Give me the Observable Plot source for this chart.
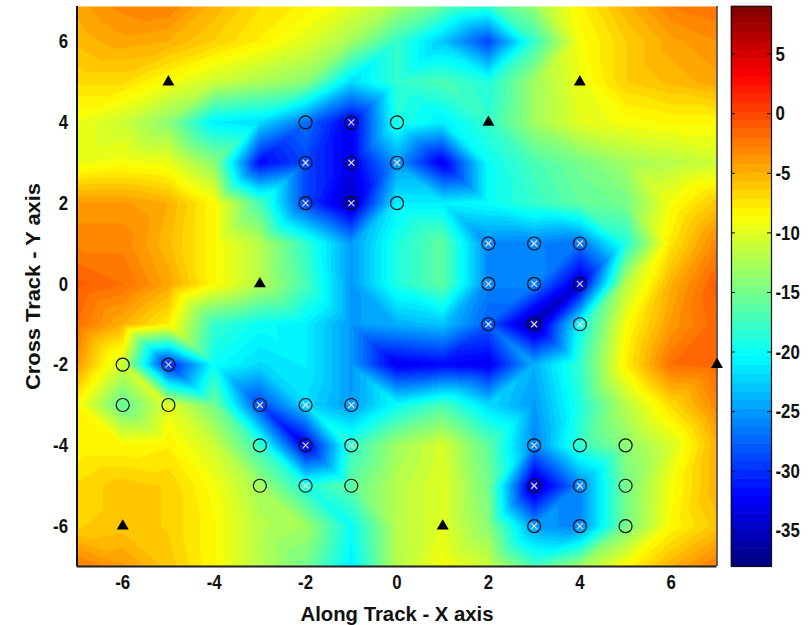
<!DOCTYPE html>
<html>
<head>
<meta charset="utf-8">
<script src="https://cdn.jsdelivr.net/npm/d3@7"></script>
<script src="https://cdn.jsdelivr.net/npm/@observablehq/plot@0.6"></script>
<style>
html,body{margin:0;padding:0;background:#fff;}
#wrap{position:relative;width:812px;height:625px;overflow:hidden;}
#wrap svg{position:absolute;left:0;top:0;background:transparent;}
</style>
</head>
<body>
<div id="wrap"></div>
<script>
const gridX = [-7,-6,-5,-4,-3,-2,-1,0,1,2,3,4,5,6,7];
const gridY = [7,6,5,4,3,2,1,0,-1,-2,-3,-4,-5,-6,-7];
const rowP7 = [-4.5,-3,-2.5,-5,-7,-8,-9.5,-12,-15,-17,-13,-8,-5,-2.5,-2];
const rowP6 = [-5.5,-4.5,-5,-6.5,-8,-10,-13,-18,-23,-29,-18,-9,-6.5,-4.5,-3.5];
const rowP5 = [-7,-7,-9,-11,-12.5,-14,-22,-18,-17,-19,-13,-9.5,-6.5,-5.5,-4.5];
const rowP4 = [-9.5,-11,-14,-21,-22,-27,-33,-19,-21,-18,-13,-10,-9,-8.5,-8.5];
const rowP3 = [-9.5,-9,-9.5,-14,-32,-29,-33,-25,-33,-20,-17,-15,-13,-12,-11];
const rowP2 = [-4,-4,-5,-8.5,-17,-29,-35,-21,-21,-20,-18,-16,-15,-9,-6];
const rowP1 = [-3,-3,-5.5,-8.5,-12,-18,-25,-19,-16,-26,-26,-27,-19,-7.5,-3];
const row00 = [-1,-2,-4.5,-8.5,-12,-17,-25,-19,-16,-26,-26,-34,-12,-5,-1];
const rowN1 = [-2,-5,-8,-18,-20,-21,-25,-24,-23,-28,-36,-20,-9,-4,-1.5];
const rowN2 = [-4,-11,-31,-20,-22,-21,-25,-33,-32,-33,-24,-18,-8,-2,-1.5];
const rowN3 = [-8.5,-16,-10,-15,-29,-22,-25,-20,-17,-22,-25,-19,-12,-7,-3];
const rowN4 = [-8.5,-8.5,-8,-11,-18,-33,-18,-13,-10.5,-16,-26,-18,-14,-10.5,-5];
const rowN5 = [-7,-6,-6.5,-9,-13,-19,-16,-12,-10,-15,-35,-26,-15,-9,-5];
const rowN6 = [-6.5,-6,-6.5,-8.5,-12,-13,-20,-12,-10,-14,-25,-26,-15,-8.5,-6];
const rowN7 = [-2.5,-4,-6,-8.5,-12,-15,-21,-12,-9,-11,-17,-13,-8.5,-5,-2.5];
const rows = [rowP7,rowP6,rowP5,rowP4,rowP3,rowP2,rowP1,row00,rowN1,rowN2,rowN3,rowN4,rowN5,rowN6,rowN7];

const triangleX = [-5,4,2,-3,7,-6,1];
const triangleY = [5,5,4,0,-2,-6,-6];
const openX = [-2,0,0,-6,-6,-5,-3,-3,-1,4,5,5,5];
const openY = [4,4,2,-2,-3,-3,-4,-5,-5,-4,-4,-5,-6];
const crossX = [-1,-2,-1,0,-2,-1,2,3,4,2,3,4,2,3,4,-5,-3,-2,-1,-2,-1,3,-2,3,4,3,4];
const crossY = [4,3,3,3,2,2,1,1,1,0,0,0,-1,-1,-1,-2,-3,-3,-3,-4,-4,-4,-5,-5,-5,-6,-6];

const xTicks = [-6,-4,-2,0,2,4,6];
const yTicks = [-6,-4,-2,0,2,4,6];
const barTicks = [-35,-30,-25,-20,-15,-10,-5,0,5];
const xDomain = [-7,7];
const yDomain = [-7,6.87];
const cDomain = [-38,9];
const xLabel = "Along Track - X axis";
const yLabel = "Cross Track - Y axis";

// MATLAB jet, 64 levels
const jetStops = [[0,0,0,.5],[.125,0,0,1],[.375,0,1,1],[.625,1,1,0],[.875,1,0,0],[1,.5,0,0]];
const jet = t => {
  let i = 0; while (i < jetStops.length-2 && t > jetStops[i+1][0]) i++;
  const a = jetStops[i], b = jetStops[i+1], k = (t-a[0])/(b[0]-a[0]);
  return d3.rgb(...[1,2,3].map(c => 255*(a[c]+(b[c]-a[c])*k))).formatHex();
};
const nLevels = 64;
const levels = d3.range(nLevels);
const span = cDomain[1]-cDomain[0];
const thresholds = levels.slice(1).map(i => cDomain[0]+span*i/nLevels);
const colors = levels.map(i => jet((i+.5)/nLevels));
const colorScale = {type:"threshold", domain:thresholds, range:colors};

const samples = [];
gridY.forEach((y,j) => gridX.forEach((x,i) => samples.push({x,y,v:rows[j][i]})));
const zip = (X,Y) => X.map((x,i) => ({x,y:Y[i]}));
const font = {fontFamily:"'Liberation Sans',Arial,sans-serif",fontWeight:"bold",fontSize:"21px",color:"#111"};

const main = Plot.plot({
  width:812,height:625,
  marginLeft:76.5,marginRight:95.5,marginTop:6,marginBottom:59,
  x:{domain:xDomain},y:{domain:yDomain},
  color:colorScale,style:font,
  marks:[
    Plot.raster(samples,{x:"x",y:"y",fill:"v",x1:xDomain[0],x2:xDomain[1],y1:yDomain[0],y2:yDomain[1],pixelSize:1,interpolate:"barycentric",clip:"frame"}),
    Plot.axisX({ticks:xTicks,tickFormat:String,tickSize:0,tickPadding:8,label:xLabel,labelAnchor:"center",labelArrow:"none",labelOffset:54}),
    Plot.axisY({ticks:yTicks,tickFormat:String,tickSize:0,tickPadding:9,label:yLabel,labelAnchor:"center",labelArrow:"none",labelOffset:52}),
    Plot.ruleX([xDomain[0]],{stroke:"#111",strokeWidth:2}),
    Plot.ruleX([xDomain[1]],{stroke:"#333",strokeWidth:1.5}),
    Plot.ruleY([yDomain[0]],{stroke:"#222",strokeWidth:2}),
    Plot.dot(zip(openX,openY),{x:"x",y:"y",r:6.5,stroke:"#111",strokeWidth:1.2}),
    Plot.dot(zip(crossX,crossY),{x:"x",y:"y",r:6.5,stroke:"#111",strokeWidth:1.2}),
    Plot.dot(zip(crossX,crossY),{x:"x",y:"y",r:2.8,symbol:"times",stroke:"#d8d8d8",strokeWidth:1.3}),
    Plot.dot(zip(triangleX,triangleY),{x:"x",y:"y",r:3.5,symbol:"triangle",fill:"#000",stroke:"#000"})
  ]
});
const bar = Plot.plot({
  width:812,height:625,
  marginLeft:731,marginRight:41,marginTop:6,marginBottom:59,
  x:{domain:[0,1],axis:null},y:{domain:cDomain},
  color:colorScale,style:font,
  marks:[
    Plot.rect(levels,{x1:0,x2:1,y1:i=>cDomain[0]+span*i/nLevels,y2:i=>cDomain[0]+span*(i+1)/nLevels,fill:i=>cDomain[0]+span*(i+.5)/nLevels,inset:-0.3}),
    Plot.axisY({anchor:"right",ticks:barTicks,tickFormat:String,tickSize:0,tickPadding:4,label:null}),
    Plot.ruleY(barTicks,{x1:0,x2:.1,stroke:"#111",strokeWidth:1}),
    Plot.ruleY(barTicks,{x1:.9,x2:1,stroke:"#111",strokeWidth:1}),
    Plot.frame({stroke:"#111",strokeWidth:1.2})
  ]
});
document.getElementById("wrap").append(main,bar);
// condense the text to the narrow bold face of the reference
const labelWidths = {[xLabel]:193,[yLabel]:207};
document.querySelectorAll("#wrap svg text").forEach(t => {
  const s = t.textContent;
  const w = labelWidths[s] ?? t.getComputedTextLength()*.8;
  t.setAttribute("textLength",w);
  t.setAttribute("lengthAdjust","spacingAndGlyphs");
});
</script>
</body>
</html>
